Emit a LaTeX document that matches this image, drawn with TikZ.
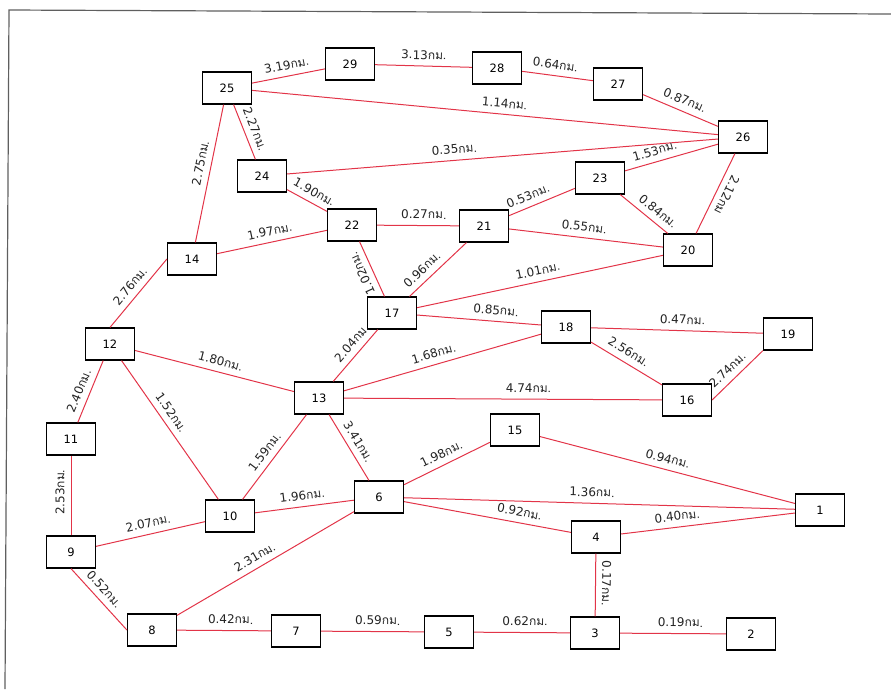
\documentclass[tikz,border=0pt]{standalone}
\usepackage{fontspec}
\setmainfont{DejaVu Sans}
\newfontfamily\thaifont[Script=Thai]{Loma}
\usetikzlibrary{positioning}

\definecolor{roadred}{RGB}{226,52,72}
\definecolor{labelgray}{RGB}{35,35,35}
\definecolor{framegray}{RGB}{95,95,95}

% distance label: number + Thai unit
\newcommand{\km}[1]{#1{\thaifont กม.}}

\begin{document}
\begin{tikzpicture}[
    x=1pt, y=-1pt,
    nodebox/.style={
        draw=black,
        line width=1.2pt,
        fill=white,
        minimum width=49pt,
        minimum height=32pt,
        inner sep=0pt,
        font=\fontsize{11.5}{12}\selectfont
    },
    road/.style={draw=roadred, line width=1pt},
    dist/.style={
        sloped,
        above=4pt,
        inner sep=2pt,
        text=labelgray,
        font=\fontsize{12}{13}\selectfont
    }
]

\useasboundingbox (0,0) rectangle (891,689);

% ------------------------
% Scan frame
% ------------------------
\draw[framegray, line width=1.2pt] (891,14) -- (9,10) -- (5,689);

% ------------------------
% Nodes
% ------------------------
\node[nodebox] (n1)  at (820,510) {1};
\node[nodebox] (n2)  at (751,634) {2};
\node[nodebox] (n3)  at (595,633) {3};
\node[nodebox] (n4)  at (596,537) {4};
\node[nodebox] (n5)  at (449,632) {5};
\node[nodebox] (n6)  at (379,497) {6};
\node[nodebox] (n7)  at (296,631) {7};
\node[nodebox] (n8)  at (152,630) {8};
\node[nodebox] (n9)  at (71,552)  {9};
\node[nodebox] (n10) at (230,516) {10};
\node[nodebox] (n11) at (71,439)  {11};
\node[nodebox] (n12) at (110,344) {12};
\node[nodebox] (n13) at (319,398) {13};
\node[nodebox] (n14) at (192,259) {14};
\node[nodebox] (n15) at (515,430) {15};
\node[nodebox] (n16) at (687,400) {16};
\node[nodebox] (n17) at (392,313) {17};
\node[nodebox] (n18) at (566,327) {18};
\node[nodebox] (n19) at (788,334) {19};
\node[nodebox] (n20) at (688,250) {20};
\node[nodebox] (n21) at (484,226) {21};
\node[nodebox] (n22) at (352,225) {22};
\node[nodebox] (n23) at (600,178) {23};
\node[nodebox] (n24) at (262,176) {24};
\node[nodebox] (n25) at (227,88)  {25};
\node[nodebox] (n26) at (743,137) {26};
\node[nodebox] (n27) at (618,84)  {27};
\node[nodebox] (n28) at (497,68)  {28};
\node[nodebox] (n29) at (350,64)  {29};

% ------------------------
% Top part
% ------------------------
\draw[road] (n25) -- node[dist, pos=.5]  {\km{3.19}} (n29);
\draw[road] (n29) -- node[dist, pos=.5]  {\km{3.13}} (n28);
\draw[road] (n28) -- node[dist, pos=.45] {\km{0.64}} (n27);
\draw[road] (n27) -- node[dist, pos=.5]  {\km{0.87}} (n26);
\draw[road] (n25) -- node[dist, pos=.54] {\km{1.14}} (n26);
\draw[road] (n14) -- node[dist, pos=.56] {\km{2.75}} (n25);
\draw[road] (n25) -- node[dist, pos=.52] {\km{2.27}} (n24);
\draw[road] (n24) -- node[dist, pos=.39] {\km{0.35}} (n26);
\draw[road] (n24) -- node[dist, pos=.55] {\km{1.90}} (n22);
\draw[road] (n23) -- node[dist, pos=.35] {\km{1.53}} (n26);
\draw[road] (n21) -- node[dist, pos=.35] {\km{0.53}} (n23);
\draw[road] (n23) -- node[dist, pos=.65] {\km{0.84}} (n20);
\draw[road] (n26) -- node[dist, pos=.46, allow upside down] {2.12{\thaifont กม}} (n20);

% ------------------------
% Middle part
% ------------------------
\draw[road] (n22) -- node[dist, pos=.57] {\km{0.27}} (n21);
\draw[road] (n21) -- node[dist, pos=.48] {\km{0.55}} (n20);
\draw[road] (n14) -- node[dist, pos=.5]  {\km{1.97}} (n22);
\draw[road] (n17) -- node[dist, pos=.5, allow upside down] {\km{1.02}} (n22);
\draw[road] (n17) -- node[dist, pos=.35] {\km{0.96}} (n21);
\draw[road] (n17) -- node[dist, pos=.5]  {\km{1.01}} (n20);
\draw[road] (n17) -- node[dist, pos=.63] {\km{0.85}} (n18);
\draw[road] (n12.north) -- node[dist, pos=.5] {\km{2.76}} (n14.west);
\draw[road] (n13) -- node[dist, pos=.6]  {\km{2.04}} (n17);
\draw[road] (n18) -- node[dist, pos=.53] {\km{0.47}} (n19);
\draw[road] (n18) -- node[dist, pos=.45] {\km{2.56}} (n16);
\draw[road] (n16.east) -- node[dist, pos=.45] {\km{2.74}} (n19.south west);
\draw[road] (n12) -- node[dist, pos=.52] {\km{1.80}} (n13);
\draw[road] (n13) -- node[dist, pos=.47] {\km{1.68}} (n18);
\draw[road] (n13) -- node[dist, pos=.58] {\km{4.74}} (n16);

% ------------------------
% Lower part
% ------------------------
\draw[road] (n11) -- node[dist, pos=.44] {\km{2.40}} (n12);
\draw[road] (n12) -- node[dist, pos=.42] {\km{1.52}} (n10);
\draw[road] (n10) -- node[dist, pos=.48] {\km{1.59}} (n13);
\draw[road] (n13) -- node[dist, pos=.5]  {\km{3.41}} (n6);
\draw[road] (n9)  -- node[dist, pos=.54] {\km{2.53}} (n11);
\draw[road] (n10) -- node[dist, pos=.49] {\km{1.96}} (n6);
\draw[road] (n9)  -- node[dist, pos=.5]  {\km{2.07}} (n10);
\draw[road] (n6)  -- node[dist, pos=.49] {\km{1.98}} (n15);
\draw[road] (n15) -- node[dist, pos=.49] {\km{0.94}} (n1);
\draw[road] (n6)  -- node[dist, pos=.48] {\km{1.36}} (n1);
\draw[road] (n6)  -- node[dist, pos=.68] {\km{0.92}} (n4);
\draw[road] (n4)  -- node[dist, pos=.33] {\km{0.40}} (n1);
\draw[road] (n4)  -- node[dist, pos=.47, allow upside down] {\km{0.17}} (n3);

% ------------------------
% Bottom row
% ------------------------
\draw[road] (n9.south) -- node[dist, pos=.45] {\km{0.52}} (n8.west);
\draw[road] (n8) -- node[dist, pos=.47] {\km{2.31}} (n6);
\draw[road] (n8) -- node[dist, pos=.57] {\km{0.42}} (n7);
\draw[road] (n7) -- node[dist, pos=.55] {\km{0.59}} (n5);
\draw[road] (n5) -- node[dist, pos=.53] {\km{0.62}} (n3);
\draw[road] (n3) -- node[dist, pos=.57] {\km{0.19}} (n2);

\end{tikzpicture}
\end{document}
